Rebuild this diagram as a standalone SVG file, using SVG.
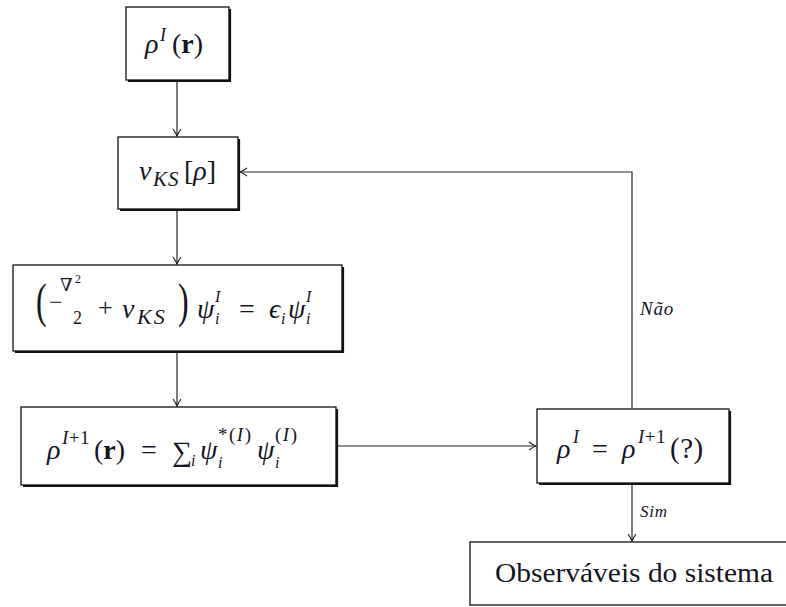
<svg xmlns="http://www.w3.org/2000/svg" width="786" height="607" viewBox="0 0 786 607">
<defs>
<marker id="arr" markerUnits="userSpaceOnUse" markerWidth="14" markerHeight="12" viewBox="-10 -6 12 12" refX="0" refY="0" orient="auto">
<path d="M -7 -4 Q -2.5 -0.8 0 0 Q -2.5 0.8 -7 4" fill="none" stroke="#222" stroke-width="1.2"/>
</marker>
</defs>
<style>
.box{fill:#fff;stroke:#111;stroke-width:1.3}
.sh{fill:none;stroke:#111;stroke-width:2.2}
text{font-family:'Liberation Serif', 'DejaVu Serif', serif;fill:#15151f}
.i{font-style:italic}
.line{fill:none;stroke:#222;stroke-width:1.2}
</style>
<rect width="786" height="607" fill="#fff"/>
<g id="connectors">
<line class="line" x1="177" y1="81" x2="177" y2="136" marker-end="url(#arr)"/>
<line class="line" x1="177" y1="210" x2="177" y2="264" marker-end="url(#arr)"/>
<line class="line" x1="177" y1="352" x2="177" y2="406" marker-end="url(#arr)"/>
<line class="line" x1="337" y1="446" x2="536" y2="446" marker-end="url(#arr)"/>
<polyline class="line" points="632,408 632,172 240,172" marker-end="url(#arr)"/>
<line class="line" x1="632" y1="484" x2="632" y2="541" marker-end="url(#arr)"/>
<text class="i" x="640" y="315" font-size="19" letter-spacing="0.8">Não</text>
<text class="i" x="640" y="517" font-size="17" letter-spacing="0.8">Sim</text>
</g>
<g id="n1">
<rect class="box" x="126" y="7" width="103" height="73"/>
<polyline class="sh" points="230,9 230,81 128,81"/>
<text class="i" x="145" y="53" font-size="28">ρ</text>
<text class="i" x="160" y="41" font-size="18">I</text>
<text x="172" y="53" font-size="28">(<tspan font-weight="bold">r</tspan>)</text>
</g>
<g id="n2">
<rect class="box" x="118" y="137" width="120" height="72"/>
<polyline class="sh" points="239,139 239,210 120,210"/>
<text class="i" x="139" y="180" font-size="28">v</text>
<text class="i" x="153" y="186" font-size="21" letter-spacing="1">KS</text>
<text x="184" y="180" font-size="28">[<tspan class="i">ρ</tspan>]</text>
</g>
<g id="n3">
<rect class="box" x="13" y="265" width="329" height="86"/>
<polyline class="sh" points="343,267 343,352 15,352"/>
<text transform="translate(36,316.5) scale(1,1.5)" font-size="32">(</text>
<text x="49" y="310" font-size="24">−</text>
<text x="60" y="291" font-size="18">∇</text>
<text x="75" y="283" font-size="12">2</text>
<text x="73" y="324" font-size="18">2</text>
<text x="98" y="316" font-size="26">+</text>
<text class="i" x="122" y="318" font-size="28">v</text>
<text class="i" x="137" y="324" font-size="22" letter-spacing="2">KS</text>
<text transform="translate(178,316.5) scale(1,1.5)" font-size="32">)</text>
<text class="i" x="197" y="318" font-size="28">ψ</text>
<text class="i" x="215" y="302" font-size="16">I</text>
<text class="i" x="215" y="324" font-size="16">i</text>
<text x="239" y="318" font-size="28">=</text>
<text class="i" x="269" y="318" font-size="28">ϵ</text>
<text class="i" x="281" y="324" font-size="16">i</text>
<text class="i" x="288" y="318" font-size="28">ψ</text>
<text class="i" x="306" y="302" font-size="16">I</text>
<text class="i" x="306" y="324" font-size="16">i</text>
</g>
<g id="n4">
<rect class="box" x="21" y="407" width="315" height="78"/>
<polyline class="sh" points="337,409 337,486 23,486"/>
<text class="i" x="47" y="459" font-size="28">ρ</text>
<text x="62" y="444" font-size="19" letter-spacing="0.5"><tspan class="i">I</tspan>+1</text>
<text x="94" y="459" font-size="28">(<tspan font-weight="bold">r</tspan>)</text>
<text x="141" y="459" font-size="28">=</text>
<text x="172" y="461" font-size="28">∑</text>
<text class="i" x="191" y="466" font-size="16">i</text>
<text class="i" x="200" y="459" font-size="28">ψ</text>
<text x="218" y="441" font-size="19" letter-spacing="1.5">*(<tspan class="i">I</tspan>)</text>
<text class="i" x="218" y="468" font-size="16">i</text>
<text class="i" x="257" y="459" font-size="28">ψ</text>
<text x="275" y="441" font-size="19" letter-spacing="1.5">(<tspan class="i">I</tspan>)</text>
<text class="i" x="275" y="468" font-size="16">i</text>
</g>
<g id="n5">
<rect class="box" x="537" y="409" width="192" height="74"/>
<polyline class="sh" points="730,411 730,484 539,484"/>
<text class="i" x="557" y="458" font-size="28">ρ</text>
<text class="i" x="573" y="443" font-size="18">I</text>
<text x="592" y="458" font-size="28">=</text>
<text class="i" x="622" y="458" font-size="28">ρ</text>
<text x="638" y="443" font-size="19" letter-spacing="0.5"><tspan class="i">I</tspan>+1</text>
<text x="670" y="458" font-size="29" letter-spacing="0.5">(?)</text>
</g>
<g id="n6">
<rect class="box" x="470" y="542" width="320" height="63"/>
<text x="495" y="582" font-size="27" textLength="278" lengthAdjust="spacingAndGlyphs">Observáveis do sistema</text>
</g>
</svg>
